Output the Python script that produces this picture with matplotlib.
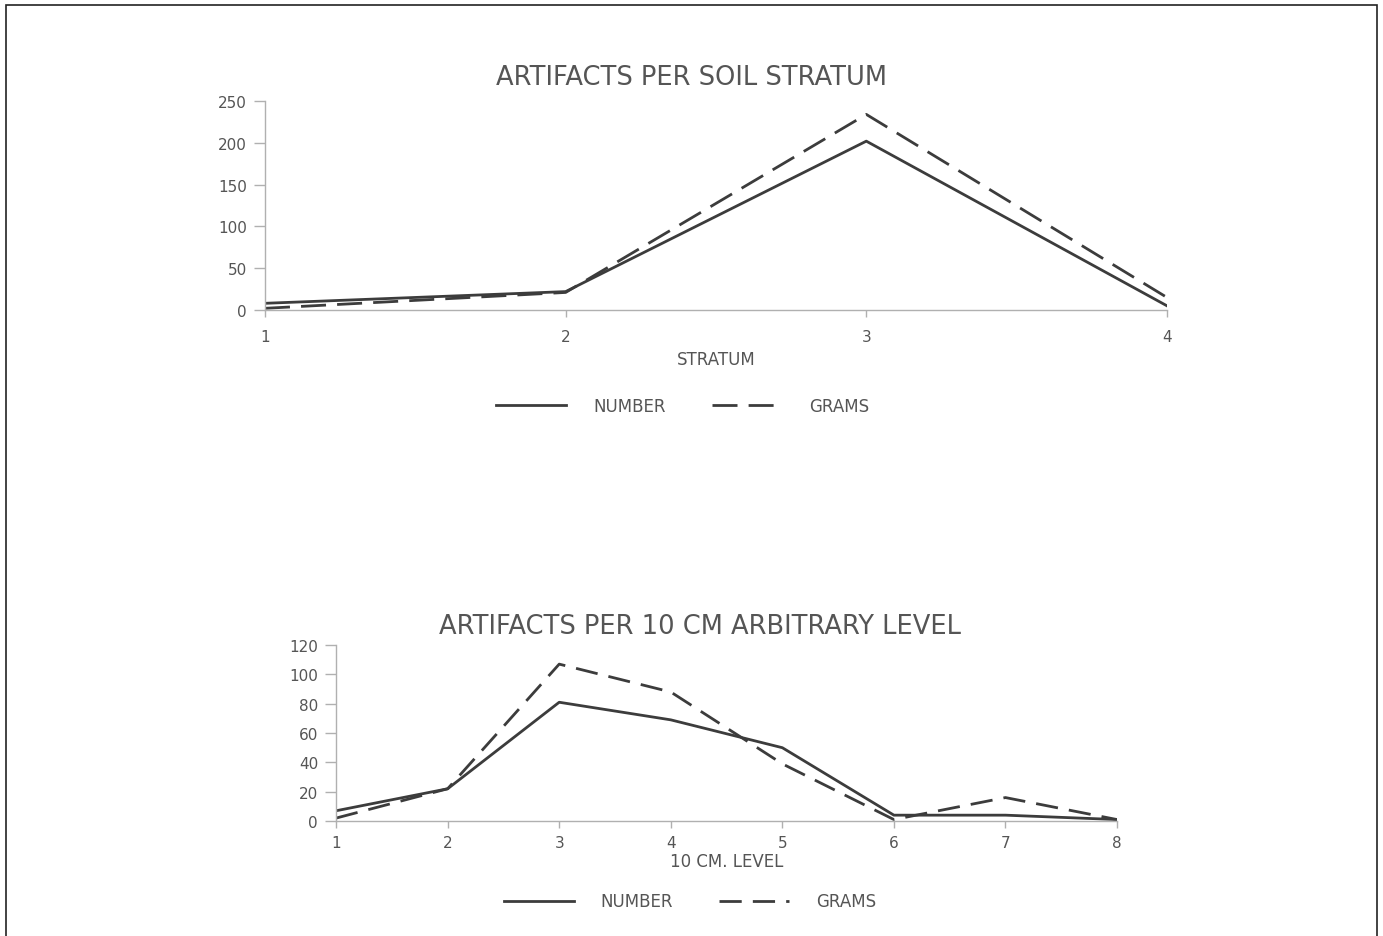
import matplotlib.pyplot as plt
from matplotlib.patches import Rectangle

# data
strata = [1, 2, 3, 4]
strat_number = [8, 22, 202, 5]
strat_grams = [2, 21, 234, 15]

levels = [1, 2, 3, 4, 5, 6, 7, 8]
level_number = [7, 22, 81, 69, 50, 4, 4, 1]
level_grams = [2, 22, 107, 88, 39, 1, 16, 1]

plt.rcParams['font.family'] = ['DejaVu Sans']

line_col = '#3c3c3c'
text_col = '#555555'
axis_col = '#b0b0b0'

fig = plt.figure(figsize=(13.83, 9.37), dpi=100)

# page border of the scan
fig.patches.append(Rectangle((6 / 1383, -0.05), 1371 / 1383, 1.05 - 6 / 937,
                             transform=fig.transFigure, fill=False,
                             edgecolor='#222222', linewidth=1.2))


def style_axes(ax, xpad):
    for s in ['top', 'right']:
        ax.spines[s].set_visible(False)
    for s in ['left', 'bottom']:
        ax.spines[s].set_color(axis_col)
        ax.spines[s].set_linewidth(1.0)
    ax.tick_params(axis='y', colors=axis_col, labelcolor=text_col, length=8,
                   width=1, labelsize=11, pad=5)
    ax.tick_params(axis='x', colors=axis_col, labelcolor=text_col, length=5,
                   width=1, labelsize=11, pad=xpad)


leg_kw = dict(ncol=2, frameon=False, fontsize=12, labelcolor=text_col,
              handlelength=4.2, handletextpad=1.6, columnspacing=2.8)

# top chart
ax1 = fig.add_axes([0.1916, 0.6681, 0.6522, 0.2230])
ax1.plot(strata, strat_number, color=line_col, lw=2.0, label='NUMBER')
ax1.plot(strata, strat_grams, color=line_col, lw=2.0, dashes=(9, 4),
         label='GRAMS')
ax1.set_xlim(1, 4)
ax1.set_ylim(0, 250)
ax1.set_xticks(strata)
ax1.set_yticks([0, 50, 100, 150, 200, 250])
style_axes(ax1, 9)
ax1.set_title('ARTIFACTS PER SOIL STRATUM', fontsize=18.5, color=text_col,
              x=0.473, pad=12)
ax1.set_xlabel('STRATUM', fontsize=12, color=text_col)
ax1.xaxis.set_label_coords(0.5, -0.19)
ax1.legend(loc='upper center', bbox_to_anchor=(0.463, -0.345), **leg_kw)

# bottom chart
ax2 = fig.add_axes([0.2430, 0.1227, 0.5647, 0.1878])
ax2.plot(levels, level_number, color=line_col, lw=2.0, label='NUMBER')
ax2.plot(levels, level_grams, color=line_col, lw=2.0, dashes=(8, 4),
         label='GRAMS')
ax2.set_xlim(1, 8)
ax2.set_ylim(0, 120)
ax2.set_xticks(levels)
ax2.set_yticks([0, 20, 40, 60, 80, 100, 120])
style_axes(ax2, 5)
ax2.set_title('ARTIFACTS PER 10 CM ARBITRARY LEVEL', fontsize=18.5,
              color=text_col, x=0.466, pad=9)
ax2.set_xlabel('10 CM. LEVEL', fontsize=12, color=text_col)
ax2.xaxis.set_label_coords(0.5, -0.175)
ax2.legend(loc='upper center', bbox_to_anchor=(0.453, -0.32), **leg_kw)

fig.savefig('out.png', dpi=100)
